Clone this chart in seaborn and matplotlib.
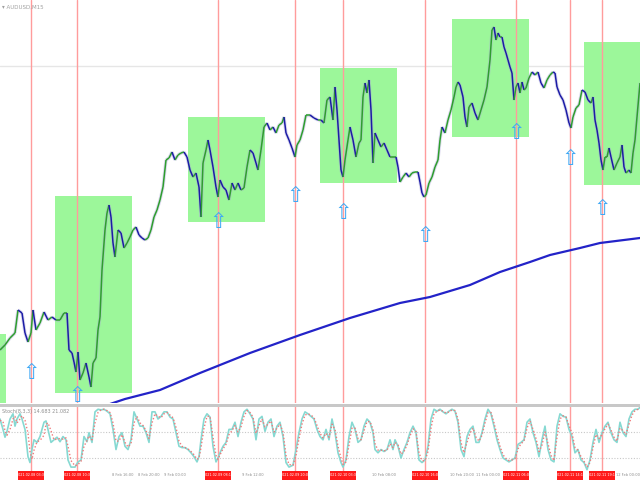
import numpy as np
import pandas as pd
import matplotlib
matplotlib.use("Agg")
import matplotlib.pyplot as plt
import seaborn as sns
from matplotlib.collections import LineCollection
from matplotlib.patches import Rectangle
from matplotlib.transforms import blended_transform_factory

# AUDUSD M15 - price (points above panel bottom)
symbol = "AUDUSD,M15"
stoch_title = "Stoch(8,3,3) 14.683 21.082"

price_bar = [0, 5, 10, 15, 18, 22, 25, 28, 31, 33, 36, 40, 44, 48, 52, 56, 60, 64, 67, 69,
             72, 74, 76, 78, 80, 83, 86, 89, 91, 93, 96, 98, 100, 102, 105, 107, 109, 111, 113, 115,
             118, 121, 124, 127, 130, 133, 136, 139, 142, 145, 148, 151, 154, 157, 160, 163, 166, 169, 172, 175,
             178, 181, 184, 187, 190, 193, 196, 199, 201, 203, 206, 208, 210, 213, 216, 218, 220, 223, 226, 229,
             232, 235, 238, 241, 244, 247, 250, 253, 256, 258, 261, 264, 267, 270, 273, 276, 279, 282, 284, 286,
             289, 292, 295, 297, 300, 303, 306, 310, 314, 318, 321, 324, 327, 330, 333, 335, 337, 339, 341, 343,
             345, 348, 350, 353, 356, 359, 361, 363, 365, 367, 369, 371, 373, 375, 378, 381, 384, 387, 390, 393,
             396, 398, 400, 403, 406, 409, 412, 415, 418, 420, 422, 424, 426, 429, 432, 435, 438, 440, 442, 445,
             448, 451, 454, 456, 458, 460, 463, 465, 467, 469, 472, 475, 478, 481, 484, 487, 490, 492, 494, 496,
             498, 500, 502, 504, 506, 508, 510, 512, 514, 516, 518, 520, 522, 524, 526, 529, 532, 535, 538, 541,
             544, 547, 550, 553, 555, 557, 560, 563, 566, 569, 571, 573, 576, 579, 582, 585, 588, 591, 593, 595,
             597, 599, 601, 603, 605, 607, 609, 611, 614, 617, 620, 622, 624, 626, 629, 631, 633, 635, 637, 640]
price_close = [53, 58, 65, 70, 93, 90, 70, 61, 70, 93, 73, 80, 91, 83, 86, 83, 83, 90, 90, 53,
               50, 41, 31, 51, 23, 30, 40, 26, 16, 40, 45, 73, 86, 133, 173, 190, 198, 186, 160, 146,
               173, 170, 155, 160, 166, 173, 176, 168, 165, 163, 165, 173, 186, 193, 203, 216, 243, 245, 251, 243,
               248, 250, 251, 246, 233, 226, 230, 216, 186, 240, 253, 263, 253, 236, 216, 206, 223, 216, 213, 203,
               220, 213, 220, 213, 215, 236, 253, 250, 240, 233, 253, 276, 280, 273, 276, 270, 278, 280, 286, 270,
               263, 255, 246, 258, 263, 273, 288, 288, 285, 283, 283, 280, 303, 306, 283, 316, 293, 263, 233, 226,
               243, 263, 276, 263, 246, 260, 263, 306, 320, 310, 323, 293, 240, 270, 263, 256, 260, 253, 246, 246,
               246, 236, 221, 226, 230, 226, 230, 231, 231, 221, 210, 206, 208, 220, 226, 236, 243, 263, 276, 270,
               283, 293, 306, 316, 321, 318, 306, 286, 276, 296, 300, 290, 283, 293, 303, 316, 343, 373, 376, 363,
               370, 366, 366, 356, 350, 343, 336, 330, 303, 316, 320, 310, 321, 313, 315, 325, 331, 328, 331, 320,
               315, 323, 328, 331, 330, 316, 308, 303, 293, 280, 275, 286, 295, 298, 313, 311, 303, 300, 306, 283,
               273, 260, 243, 233, 246, 246, 255, 246, 233, 240, 246, 258, 236, 230, 233, 230, 250, 263, 286, 320]

ma_bar = [110, 125, 160, 200, 250, 300, 350, 400, 430, 470, 500, 530, 550, 580, 600, 640]
ma_value = [-1, 4, 13, 30, 50, 68, 85, 100, 106, 118, 131, 141, 148, 155, 160, 165]

current_price = 337

signal_bar = [31, 77, 218, 295, 343, 425, 516, 570, 602]
signal_low = [30, 7, 181, 207, 190, 167, 270, 244, 194]
signal_time = ["2021.02.08 03:30", "2021.02.08 10:30", "2021.02.09 08:15", "2021.02.09 20:00",
               "2021.02.10 03:30", "2021.02.10 16:00", "2021.02.11 06:00", "2021.02.11 14:15",
               "2021.02.11 19:15"]

box_start = [-2, 55, 188, 320, 452, 584]
box_end = [6, 132, 265, 397, 529, 645]
box_low = [0, 10, 181, 220, 266, 218]
box_high = [69, 207, 286, 335, 384, 361]

osc_bar = [0, 3, 5, 7, 10, 13, 15, 17, 20, 22, 25, 28, 30, 32, 34, 37, 40, 44, 46, 48,
           51, 54, 57, 60, 63, 66, 68, 71, 75, 78, 81, 84, 87, 89, 92, 95, 98, 101, 104, 107,
           110, 113, 116, 119, 122, 125, 128, 131, 134, 137, 140, 143, 146, 149, 152, 155, 158, 161, 164, 167,
           170, 173, 176, 179, 182, 185, 188, 191, 194, 197, 199, 201, 204, 207, 210, 213, 216, 218, 220, 223,
           226, 229, 232, 235, 238, 241, 244, 247, 250, 253, 256, 259, 262, 265, 268, 271, 274, 277, 280, 283,
           286, 289, 293, 296, 299, 302, 305, 308, 311, 314, 317, 320, 323, 326, 329, 332, 335, 338, 341, 343,
           346, 349, 352, 355, 358, 361, 364, 367, 370, 373, 375, 378, 381, 384, 387, 390, 393, 395, 398, 401,
           404, 407, 410, 413, 416, 419, 422, 425, 428, 431, 434, 437, 440, 443, 446, 449, 452, 455, 458, 461,
           464, 467, 470, 473, 476, 479, 482, 485, 488, 491, 494, 497, 500, 503, 506, 509, 512, 515, 518, 521,
           524, 527, 530, 533, 536, 539, 542, 545, 548, 551, 554, 557, 560, 563, 566, 569, 572, 575, 578, 581,
           584, 587, 590, 593, 596, 599, 602, 605, 608, 611, 614, 617, 620, 623, 626, 629, 632, 635, 638, 640]
stoch_k = [80, 64, 52, 61, 80, 88, 69, 80, 88, 80, 64, 22, 13, 33, 48, 44, 53, 75, 77, 64,
           44, 48, 52, 45, 53, 48, 17, 6, 6, 14, 17, 53, 45, 59, 44, 91, 95, 94, 95, 92,
           88, 64, 33, 53, 59, 38, 33, 48, 91, 80, 69, 69, 59, 44, 91, 91, 80, 84, 91, 91,
           83, 80, 59, 38, 36, 36, 33, 28, 22, 14, 22, 48, 80, 88, 83, 38, 14, 20, 28, 38,
           44, 64, 64, 75, 53, 75, 91, 95, 88, 80, 48, 80, 84, 61, 75, 80, 53, 69, 75, 53,
           13, 6, 9, 33, 59, 80, 91, 88, 84, 80, 64, 53, 48, 64, 48, 80, 59, 28, 13, 6,
           17, 53, 75, 64, 44, 48, 69, 80, 75, 59, 33, 28, 33, 30, 33, 48, 33, 48, 38, 20,
           33, 44, 59, 69, 59, 17, 13, 17, 38, 80, 95, 92, 95, 91, 88, 92, 95, 92, 75, 33,
           22, 53, 64, 69, 44, 44, 59, 80, 95, 88, 69, 48, 33, 20, 17, 14, 17, 20, 41, 44,
           48, 75, 80, 59, 44, 22, 48, 69, 33, 17, 14, 69, 88, 84, 83, 64, 53, 28, 33, 17,
           13, 2, 17, 44, 64, 44, 59, 69, 75, 59, 48, 44, 75, 59, 53, 80, 91, 95, 95, 98]
stoch_d = [78, 76, 62, 55, 64, 80, 84, 74, 80, 85, 78, 58, 30, 18, 32, 45, 47, 55, 72, 74,
           62, 48, 49, 50, 49, 51, 38, 16, 8, 10, 15, 38, 47, 54, 48, 74, 90, 94, 95, 93,
           90, 74, 46, 46, 56, 44, 37, 42, 74, 84, 74, 70, 62, 50, 74, 88, 84, 82, 88, 90,
           86, 82, 67, 46, 38, 36, 34, 30, 25, 18, 20, 36, 66, 84, 84, 52, 24, 18, 25, 34,
           41, 56, 62, 70, 60, 68, 84, 93, 90, 83, 58, 70, 80, 68, 72, 77, 60, 66, 72, 60,
           24, 10, 9, 24, 50, 72, 86, 88, 86, 82, 70, 58, 51, 58, 52, 72, 64, 38, 20, 10,
           14, 40, 66, 66, 50, 48, 62, 76, 76, 64, 42, 32, 32, 31, 32, 42, 36, 44, 40, 26,
           30, 40, 54, 65, 61, 28, 16, 16, 30, 66, 88, 92, 94, 92, 89, 91, 94, 93, 80, 44,
           28, 44, 58, 66, 52, 46, 55, 74, 90, 90, 74, 55, 38, 25, 19, 16, 17, 19, 34, 42,
           46, 66, 77, 64, 50, 30, 40, 60, 42, 24, 16, 52, 80, 85, 83, 70, 58, 36, 32, 22,
           15, 6, 13, 36, 56, 50, 56, 65, 72, 63, 52, 46, 66, 62, 56, 72, 86, 93, 95, 97]
stoch_levels = [60, 20]

time_tick_bar = [2, 34, 60, 86, 112, 138, 164, 190, 216, 242, 268, 294, 320, 346, 372,
                 398, 424, 450, 476, 502, 528, 554, 580, 606, 616]
time_tick_label = ["8 Feb 2021", "8 Feb 04:00", "8 Feb 08:00", "8 Feb 12:00", "8 Feb 16:00",
                   "8 Feb 20:00", "9 Feb 00:00", "9 Feb 04:00", "9 Feb 08:00", "9 Feb 12:00",
                   "9 Feb 16:00", "9 Feb 20:00", "10 Feb 00:00", "10 Feb 04:00", "10 Feb 08:00",
                   "10 Feb 12:00", "10 Feb 16:00", "10 Feb 20:00", "11 Feb 00:00", "11 Feb 04:00",
                   "11 Feb 08:00", "11 Feb 12:00", "11 Feb 16:00", "11 Feb 20:00", "12 Feb 00:00"]

sns.set_style("white")
plt.rcParams['font.family'] = ['DejaVu Sans']

fig = plt.figure(figsize=(6.4, 4.8), dpi=100)
fig.patch.set_facecolor("white")
H = 480.0
ax = fig.add_axes([0, 1 - 403 / H, 1, 403 / H])
ax_osc = fig.add_axes([0, 9 / H, 1, 65 / H])

# separator band between the two panels
fig.patches.append(Rectangle((0, 1 - 407 / H), 1, 3 / H, transform=fig.transFigure,
                             facecolor="#c8c8c8", edgecolor="none"))

for a in (ax, ax_osc):
    a.set_xlim(0, 640)
    for s in a.spines.values():
        s.set_visible(False)
    a.set_xticks([])
    a.set_yticks([])
    a.set_facecolor("white")
ax.set_ylim(0, 403)
ax_osc.set_ylim(0, 100)

# green zones
for x0, x1, lo, hi in zip(box_start, box_end, box_low, box_high):
    ax.add_patch(Rectangle((x0, lo), x1 - x0, hi - lo, facecolor="#9cf79a",
                           edgecolor="none", zorder=1))

ax.axhline(current_price, color="#e6e6e6", lw=1, zorder=0.5)

# signal bar markers
for b in signal_bar:
    ax.axvline(b, color="#ff9c9c", lw=1, zorder=2)
    ax_osc.axvline(b, color="#ff9c9c", lw=1, zorder=2)

# price path, green up / blue down
df = pd.DataFrame({"bar": price_bar, "close": price_close})
pts = df[["bar", "close"]].to_numpy(dtype=float)
segs = np.stack([pts[:-1], pts[1:]], axis=1)
up = np.diff(df["close"].to_numpy()) >= 0
cols = np.where(up, "#2e9e2e", "#1c1ca6")
ax.add_collection(LineCollection(segs, colors="#aaa4d8", linewidths=2.4, alpha=0.4, zorder=3))
ax.add_collection(LineCollection(segs, colors=cols, linewidths=1.1, zorder=4))

sns.lineplot(x=ma_bar, y=ma_value, ax=ax, color="#2323c8", lw=1.6, zorder=5)

for b, lo in zip(signal_bar, signal_low):
    ax.text(b, lo, "\u21e7", color="#3fa9f5", fontsize=15, ha="center", va="center", zorder=6)

ax.text(2, 398, "\u25be " + symbol, fontsize=4, color="#a0a0a0", va="top", ha="left")

# stochastic panel
for lv in stoch_levels:
    ax_osc.axhline(lv, color="#c8c8c8", lw=0.8, ls=(0, (1, 1.5)), zorder=1)
sns.lineplot(x=osc_bar, y=stoch_k, ax=ax_osc, color="#86d9d2", lw=1.2, zorder=3)
sns.lineplot(x=osc_bar, y=stoch_d, ax=ax_osc, color="#f07a7a", lw=1.0,
             linestyle=(0, (1, 1.5)), zorder=4)
ax_osc.text(2, 96, stoch_title, fontsize=3.5, color="#909090", va="top", ha="left")

# time axis
tr = blended_transform_factory(ax_osc.transData, fig.transFigure)
for b, lab in zip(time_tick_bar, time_tick_label):
    if any(s - 30 < b < s + 14 for s in signal_bar):
        continue
    t = fig.text(0, 0, lab, transform=tr, fontsize=2.6, color="#8c8c8c",
                 ha="left", va="center")
    t.set_position((b, 4.5 / H))
for b, lab in zip(signal_bar, signal_time):
    fig.patches.append(Rectangle((b - 13, 0.5 / H), 26, 8.5 / H, transform=tr,
                                 facecolor="#ff1a1a", edgecolor="none", zorder=5))
    t = fig.text(0, 0, lab, transform=tr, fontsize=2.4, color="white", ha="center",
                 va="center", zorder=6)
    t.set_position((b, 4.7 / H))

fig.savefig("out.png", dpi=100, facecolor="white")
